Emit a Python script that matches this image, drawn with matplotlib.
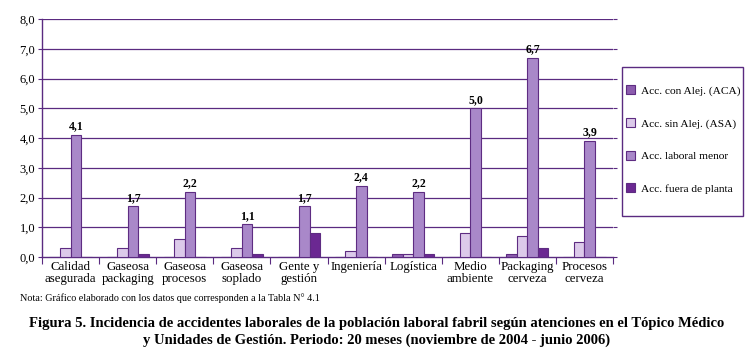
import matplotlib
matplotlib.use("Agg")
import matplotlib.pyplot as plt
from matplotlib.patches import Rectangle
import numpy as np

categories = ["Calidad\nasegurada", "Gaseosa\npackaging", "Gaseosa\nprocesos", "Gaseosa\nsoplado",
              "Gente y\ngestión", "Ingeniería", "Logística", "Medio\nambiente",
              "Packaging\ncerveza", "Procesos\ncerveza"]
series_names = ["Acc. con Alej. (ACA)", "Acc. sin Alej. (ASA)", "Acc. laboral menor", "Acc. fuera de planta"]
aca = [0.0, 0.0, 0.0, 0.0, 0.0, 0.0, 0.1, 0.0, 0.1, 0.0]
asa = [0.3, 0.3, 0.6, 0.3, 0.0, 0.2, 0.1, 0.8, 0.7, 0.5]
menor = [4.1, 1.7, 2.2, 1.1, 1.7, 2.4, 2.2, 5.0, 6.7, 3.9]
fuera = [0.0, 0.1, 0.0, 0.1, 0.8, 0.0, 0.1, 0.0, 0.3, 0.0]
yticks = [0, 1, 2, 3, 4, 5, 6, 7, 8]

colors = ["#8c5cae", "#dccaea", "#a988c9", "#6b2892"]
edge = "#5e2c82"
grid_c = "#5a2a80"

plt.rcParams['font.family'] = ['Liberation Serif', 'DejaVu Serif']

fig = plt.figure(figsize=(7.54, 3.6), dpi=100)
ax = fig.add_axes([42/754, 1-257/360, (613-42)/754, (257-19)/360])

x = np.arange(len(categories))
w = 0.185
data = [aca, asa, menor, fuera]
bars = []
for i, (vals, c, name) in enumerate(zip(data, colors, series_names)):
    b = ax.bar(x + (i - 1.5) * w, vals, width=w, color=c, edgecolor=edge, linewidth=0.8,
               label=name, zorder=3)
    bars.append(b)

for xi, v in zip(x + 0.5 * w, menor):
    ax.text(xi, v + 0.08, f"{v:.1f}".replace(".", ","), ha="center", va="bottom",
            fontsize=8.5, fontweight="bold", zorder=4)

ax.set_xlim(-0.5, len(categories) - 0.5)
ax.set_ylim(0, 8)
ax.set_yticks(yticks)
ax.set_yticklabels([f"{t:.1f}".replace(".", ",") for t in yticks], fontsize=9)
for t in yticks[1:]:
    ax.axhline(t, color=grid_c, linewidth=0.9, zorder=1)

ax.set_xticks(x)
ax.set_xticklabels(categories, fontsize=9.3, linespacing=1.0)
ax.tick_params(axis="x", length=0, pad=3)
ax.set_xticks(np.arange(-0.5, len(categories) + 0.5, 1), minor=True)
ax.tick_params(axis="x", which="minor", length=5, color=grid_c, width=0.8)
ax.tick_params(axis="y", length=3, color=grid_c, width=0.8, pad=2)

for s in ["top", "right"]:
    ax.spines[s].set_visible(False)
ax.spines["left"].set_color(grid_c)
ax.spines["bottom"].set_color(grid_c)
ax.spines["left"].set_linewidth(1.0)
ax.spines["bottom"].set_linewidth(1.0)

ax2 = ax.twinx()
ax2.set_ylim(0, 8)
ax2.set_yticks(yticks)
ax2.set_yticklabels([])
ax2.tick_params(axis="y", length=3, color=grid_c, width=0.8)
for s in ["top", "right", "left", "bottom"]:
    ax2.spines[s].set_visible(False)

fig.patches.append(Rectangle((622/754, 1-216/360), (743-622)/754, (216-67)/360,
                             transform=fig.transFigure, fill=False, edgecolor=grid_c,
                             linewidth=1.0))
leg = fig.legend(handles=bars, labels=series_names, loc="upper left",
                 bbox_to_anchor=(624/754, 1-83/360), bbox_transform=fig.transFigure,
                 fontsize=8.2, frameon=False, handlelength=0.8, handleheight=0.8,
                 handletextpad=0.45, labelspacing=1.95, borderpad=0.2, borderaxespad=0)

fig.text(20/754, 1-298/360, "Nota: Gráfico elaborado con los datos que corresponden a la Tabla N° 4.1",
         fontsize=7.3, ha="left", va="center")
fig.text(0.5, 1-332/360, "Figura 5. Incidencia de accidentes laborales de la población laboral fabril según atenciones en el Tópico Médico\ny Unidades de Gestión. Periodo: 20 meses (noviembre de 2004 - junio 2006)",
         fontsize=10.5, fontweight="bold", ha="center", va="center", linespacing=1.3)

fig.savefig("out.png", dpi=100)
